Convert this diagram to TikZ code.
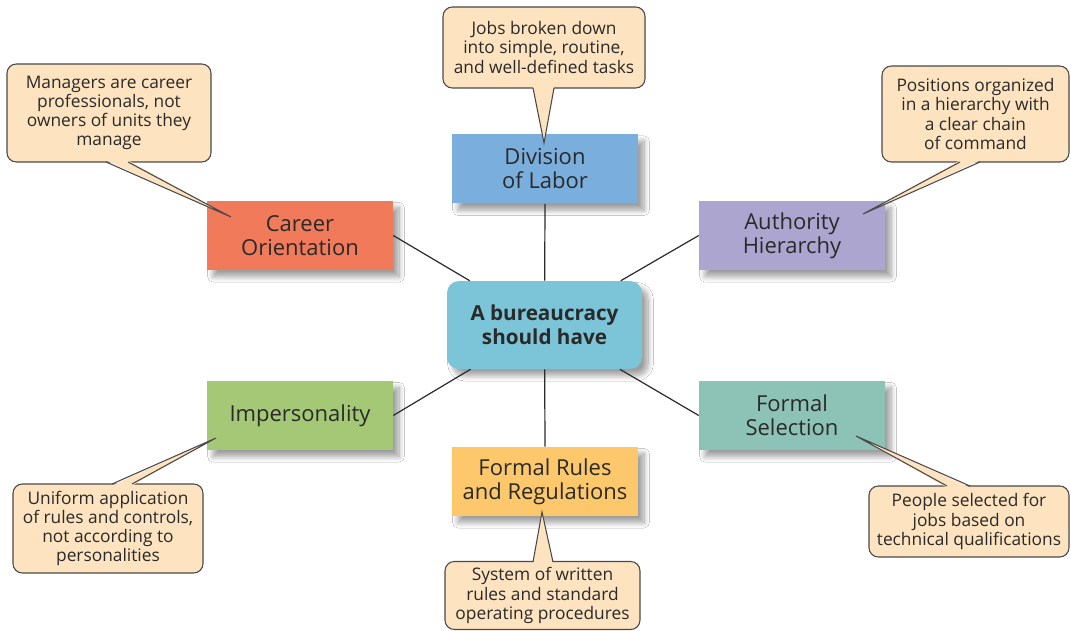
\documentclass[tikz,border=0pt]{standalone}
\usepackage{fontspec}
\setmainfont{Open Sans}
\usetikzlibrary{shadows.blur,calc}
\definecolor{txt}{HTML}{2A2A2A}
\definecolor{peach}{HTML}{FDE3BF}
\definecolor{cborder}{HTML}{4A4A4A}
\definecolor{cblue}{HTML}{7AAEDD}
\definecolor{cred}{HTML}{F07A5A}
\definecolor{clav}{HTML}{ABA5CF}
\definecolor{ccyan}{HTML}{7CC4D7}
\definecolor{cgreen}{HTML}{A5C877}
\definecolor{cteal}{HTML}{8DC2B7}
\definecolor{cyellow}{HTML}{FDC76B}
\tikzset{
  boxshadow/.style={blur shadow={shadow xshift=4.5pt, shadow yshift=-5pt, shadow opacity=38, shadow blur steps=12, shadow blur radius=4pt}},
  box/.style={rectangle, fill=#1, minimum width=139.5pt, minimum height=51.75pt, inner sep=0pt, align=center, text=txt, font=\fontsize{16.5}{18}\selectfont, boxshadow},
  hub/.style={rectangle, rounded corners=9pt, fill=ccyan, minimum width=146.25pt, minimum height=66pt, inner sep=0pt, align=center, text=txt, font=\bfseries\fontsize{15.5}{18}\selectfont, boxshadow},
  callout/.style={rectangle, rounded corners=7pt, draw=cborder, line width=0.8pt, fill=peach, inner sep=0pt, align=center, text=txt, font=\fontsize{13}{14.3}\selectfont},
  link/.style={draw=txt, line width=0.9pt},
  tailline/.style={draw=cborder, line width=0.8pt},
  tailfill/.style={fill=peach}
}
\begin{document}
\begin{tikzpicture}[x=0.75pt, y=-0.75pt]
\useasboundingbox[fill=white] (0,0) rectangle (1071,631);

% main boxes
\node[box=cblue] (div) at (545,169) {Division\\of Labor};
\node[box=cred] (career) at (300,235.5) {Career\\Orientation};
\node[box=clav] (auth) at (792,235.5) {Authority\\Hierarchy};
\node[box=cgreen] (imp) at (300,415.5) {Impersonality};
\node[box=cteal] (sel) at (792,415.5) {Formal\\Selection};
\node[box=cyellow] (rules) at (545,481.5) {Formal Rules\\and Regulations};
\node[hub] (hub) at (544.5,325) {A bureaucracy\\should have};

% connectors
\draw[link] (div.south) -- (hub);
\draw[link] (career.east) -- (hub);
\draw[link] (auth.west) -- (hub);
\draw[link] (imp.east) -- (hub);
\draw[link] (sel.west) -- (hub);
\draw[link] (rules.north) -- (hub);

% callouts
\node[callout, minimum width=151.5pt, minimum height=60.75pt] (cdiv) at (544,47.5) {Jobs broken down\\into simple, routine,\\and well-defined tasks};
\node[callout, minimum width=153pt, minimum height=73.5pt] (ccar) at (109,113) {Managers are career\\professionals, not\\owners of units they\\manage};
\node[callout, minimum width=140.25pt, minimum height=72pt] (caut) at (975.5,114) {Positions organized\\in a hierarchy with\\a clear chain\\of command};
\node[callout, minimum width=142.5pt, minimum height=66.75pt] (cimp) at (108,528.5) {Uniform application\\of rules and controls,\\not according to\\personalities};
\node[callout, minimum width=150pt, minimum height=53.25pt] (csel) at (969,521.5) {People selected for\\jobs based on\\technical qualifications};
\node[callout, minimum width=146.25pt, minimum height=51pt] (crul) at (542.5,595.5) {System of written\\rules and standard\\operating procedures};

% tails: base points on callout edge, tip inside the box
\coordinate (t1) at (544,143); \coordinate (t1a) at (533,88); \coordinate (t1b) at (554,88);
\coordinate (t2) at (231,217); \coordinate (t2a) at (106,162); \coordinate (t2b) at (128,162);
\coordinate (t3) at (863,214); \coordinate (t3a) at (960,162); \coordinate (t3b) at (980,162);
\coordinate (t4) at (216,438); \coordinate (t4a) at (112,484); \coordinate (t4b) at (132,484);
\coordinate (t5) at (856,436); \coordinate (t5a) at (947,486); \coordinate (t5b) at (970,486);
\coordinate (t6) at (542,512); \coordinate (t6a) at (533,562); \coordinate (t6b) at (553,562);

\foreach \t/\d in {t1/-1.6, t2/-1.6, t3/-1.6, t4/1.6, t5/1.6, t6/1.6}{
  \fill[tailfill] ($(\t a)+(0,\d)$) -- (\t) -- ($(\t b)+(0,\d)$) -- cycle;
  \draw[tailline] (\t a) -- (\t) -- (\t b);
}
\end{tikzpicture}
\end{document}
